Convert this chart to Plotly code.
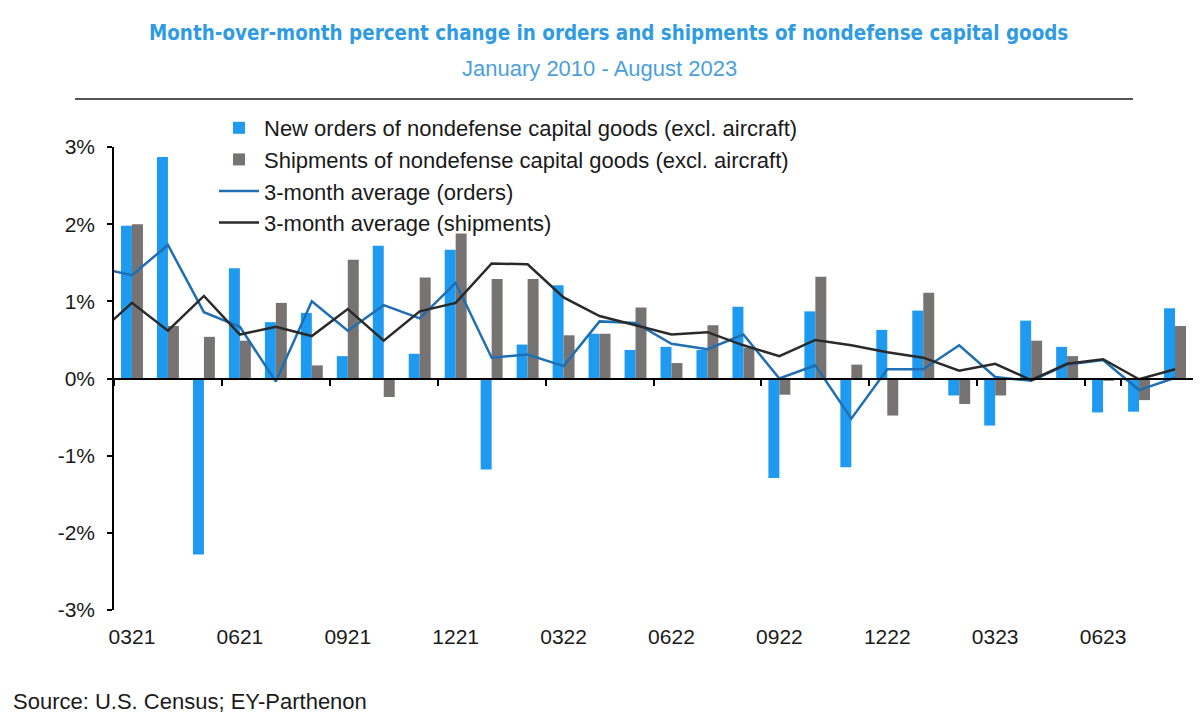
import plotly.graph_objects as go

# ---------------- data ----------------
months = ["0321", "0421", "0521", "0621", "0721", "0821", "0921", "1021", "1121", "1221",
          "0122", "0222", "0322", "0422", "0522", "0622", "0722", "0822", "0922", "1022",
          "1122", "1222", "0123", "0223", "0323", "0423", "0523", "0623", "0723", "0823"]
# the 3-month averages include the preceding month (clipped at the left edge)
avg_months = ["0221"] + months

orders = [1.98, 2.87, -2.28, 1.43, 0.73, 0.85, 0.29, 1.72, 0.32, 1.67,
          -1.18, 0.44, 1.21, 0.58, 0.37, 0.41, 0.37, 0.93, -1.29, 0.87,
          -1.15, 0.63, 0.88, -0.22, -0.61, 0.75, 0.41, -0.44, -0.43, 0.91]
shipments = [2.00, 0.68, 0.54, 0.49, 0.98, 0.17, 1.54, -0.24, 1.31, 1.88,
             1.29, 1.29, 0.56, 0.58, 0.92, 0.20, 0.69, 0.40, -0.21, 1.32,
             0.18, -0.48, 1.11, -0.33, -0.22, 0.49, 0.29, -0.03, -0.28, 0.68]
orders_avg = [1.44, 1.34, 1.73, 0.86, 0.67, -0.04, 1.00, 0.62, 0.95, 0.78, 1.24,
              0.27, 0.31, 0.16, 0.74, 0.72, 0.45, 0.38, 0.57, 0.00, 0.17,
              -0.52, 0.12, 0.12, 0.43, 0.02, -0.03, 0.18, 0.24, -0.15, 0.01]
shipments_avg = [0.56, 0.98, 0.62, 1.07, 0.57, 0.67, 0.55, 0.90, 0.49, 0.87, 0.98,
                 1.49, 1.48, 1.05, 0.81, 0.69, 0.57, 0.60, 0.43, 0.29, 0.50,
                 0.43, 0.34, 0.27, 0.10, 0.19, -0.02, 0.19, 0.25, -0.01, 0.12]

x_labels = ["0321", "0621", "0921", "1221", "0322", "0622", "0922", "1222", "0323", "0623"]
y_vals = [-3, -2, -1, 0, 1, 2, 3]
y_text = ["-3%", "-2%", "-1%", "0%", "1%", "2%", "3%"]

names = ["New orders of nondefense capital goods (excl. aircraft)",
         "Shipments of nondefense capital goods (excl. aircraft)",
         "3-month average (orders)",
         "3-month average (shipments)"]

title_text = "Month-over-month percent change in orders and shipments of nondefense capital goods"
subtitle_text = "January 2010 - August 2023"
source_text = "Source: U.S. Census; EY-Parthenon"

# ---------------- styles ----------------
C_BAR_BLUE = "#1E9BF0"
C_BAR_GRAY = "#777373"
C_LINE_BLUE = "#1F6FB2"
C_LINE_BLACK = "#2A2A2A"
C_TITLE = "#2F9BE3"
C_SUB = "#4A9FDB"
FONT = "Liberation Sans, Arial, sans-serif"

W, H = 1200, 726
ML, MR, MT, MB = 114, 7, 147, 116
PW, PH = W - ML - MR, H - MT - MB

def px_x(px):
    return (px - ML) / PW

def px_y(py):
    return (H - MB - py) / PH

y_range = [-3, 3]
x_range = [0.5, len(avg_months) - 0.5]

fig = go.Figure()
fig.add_trace(go.Bar(x=months, y=orders, name=names[0], marker_color=C_BAR_BLUE,
                     marker_line_width=0, legendgroup="a"))
fig.add_trace(go.Bar(x=months, y=shipments, name=names[1], marker_color=C_BAR_GRAY,
                     marker_line_width=0, legendgroup="b"))
fig.add_trace(go.Scatter(x=avg_months, y=orders_avg, name=names[2], mode="lines",
                         xaxis="x2", yaxis="y",
                         line=dict(color=C_LINE_BLUE, width=2.5), legendgroup="c"))
fig.add_trace(go.Scatter(x=avg_months, y=shipments_avg, name=names[3], mode="lines",
                         xaxis="x2", yaxis="y",
                         line=dict(color=C_LINE_BLACK, width=2.5), legendgroup="d"))

fig.update_layout(
    width=W, height=H,
    margin=dict(l=ML, r=MR, t=MT, b=MB),
    paper_bgcolor="white", plot_bgcolor="white",
    font=dict(family=FONT, size=21, color="#1a1a1a"),
    barmode="group", bargap=0.39, bargroupgap=0,
    showlegend=True,
    legend=dict(x=px_x(214), y=px_y(107), xanchor="left", yanchor="top",
                bgcolor="rgba(0,0,0,0)", font=dict(size=22, color="#1a1a1a"),
                itemwidth=40, traceorder="grouped", tracegroupgap=0),
    xaxis=dict(type="category", categoryorder="array", categoryarray=avg_months,
               range=x_range, tickmode="array", tickvals=x_labels, ticktext=x_labels,
               ticks="", showline=False, showgrid=False, zeroline=False,
               ticklabelstandoff=12, tickfont=dict(size=21)),
    xaxis2=dict(type="category", categoryorder="array", categoryarray=avg_months,
                overlaying="x", anchor="free",
                position=(0 - y_range[0]) / (y_range[1] - y_range[0]),
                range=x_range, tickmode="array", tickvals=x_labels, tickson="boundaries",
                ticks="outside", ticklen=6, tickwidth=1.5, tickcolor="black",
                showticklabels=False, showline=True, linecolor="black", linewidth=2,
                showgrid=False, zeroline=False),
    yaxis=dict(range=y_range, tickmode="array", tickvals=y_vals, ticktext=y_text,
               ticks="outside", ticklen=5, tickwidth=1.5, tickcolor="black",
               showline=True, linecolor="black", linewidth=1.5,
               showgrid=False, zeroline=False, ticklabelstandoff=8,
               tickfont=dict(size=21)),
)

fig.add_annotation(text="<b>" + title_text + "</b>", xref="paper", yref="paper",
                   x=px_x(608), y=px_y(33), xanchor="center", yanchor="middle",
                   showarrow=False,
                   font=dict(family="Liberation Sans Narrow, Arial Narrow, DejaVu Sans Condensed, sans-serif",
                             size=20.4, color=C_TITLE))
fig.add_annotation(text=subtitle_text, xref="paper", yref="paper",
                   x=px_x(599), y=px_y(69), xanchor="center", yanchor="middle",
                   showarrow=False, font=dict(family=FONT, size=22, color=C_SUB))
fig.add_annotation(text=source_text, xref="paper", yref="paper",
                   x=px_x(11), y=px_y(701), xanchor="left", yanchor="middle",
                   showarrow=False, font=dict(family=FONT, size=22, color="#1a1a1a"))
fig.add_shape(type="line", xref="paper", yref="paper",
              x0=px_x(75), x1=px_x(1133), y0=px_y(99), y1=px_y(99),
              line=dict(color="#555555", width=2))

fig.write_html("out.html")
